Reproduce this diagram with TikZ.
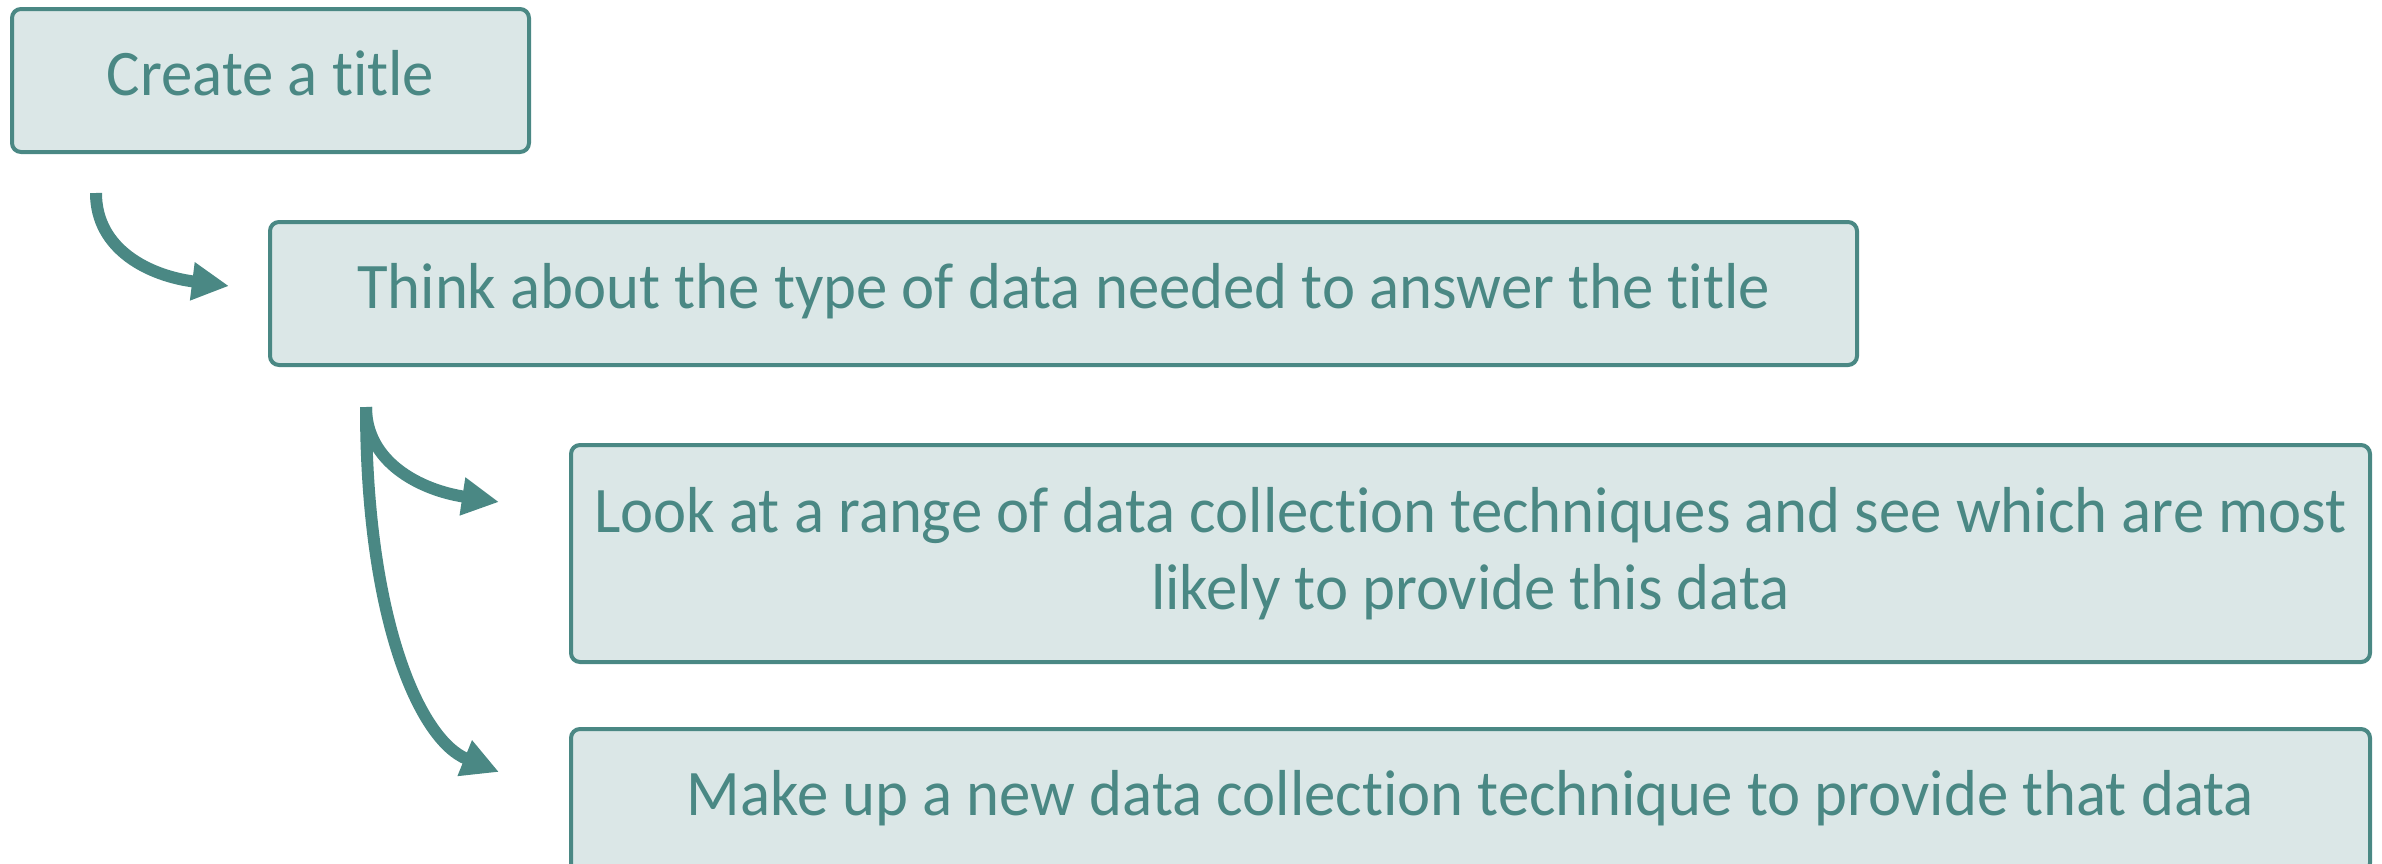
\documentclass[tikz,border=0pt]{standalone}
\usepackage{fontspec}
\setmainfont{Carlito}[FakeStretch=0.965, RawFeature=-liga]
\usetikzlibrary{arrows.meta}
\definecolor{teal}{RGB}{74,136,132}
\definecolor{pale}{RGB}{219,231,231}
\begin{document}
\begin{tikzpicture}[x=1pt,y=-1pt,
  box/.style={draw=teal, fill=pale, line width=4pt, rounded corners=9pt,
    text=teal, align=center, inner sep=0pt,
    text height=48pt, text depth=19pt,
    font=\fontsize{65}{77}\selectfont},
  flow/.style={draw=teal, line width=12pt,
    -{Triangle[length=37pt,width=36pt]}}]
  \useasboundingbox (0,0) rectangle (2382,863);
  \clip (0,0) rectangle (2382,863);

  % step boxes
  \node[box, minimum width=517pt, minimum height=143pt] (title) at (270.5,80.5) {Create a title};
  \node[box, minimum width=1587pt, minimum height=143pt] (think) at (1063.5,293.5)
    {Think about the type of data needed to answer the title};
  \node[box, text height=, text depth=, minimum width=1799pt, minimum height=217pt] (look) at (1470.5,553.5)
    {Look at a range of data collection techniques and see which are most\\likely to provide this data};
  \node[box, minimum width=1799pt, minimum height=143pt] (make) at (1470.5,800.5)
    {Make up a new data collection technique to provide that data};

  % connector ends
  \coordinate (s1) at (96,193);
  \coordinate (e1) at (229,286);
  \coordinate (s2) at (366,407);
  \coordinate (e2) at (499,502);
  \coordinate (e3) at (499,772);

  % curved arrows
  \draw[flow] (s1) .. controls (96,250) and (150,276) .. (e1);
  \draw[flow] (s2) .. controls (366,462) and (420,490) .. (e2);
  \draw[flow] (s2) .. controls (366,620) and (420,740) .. (e3);
\end{tikzpicture}
\end{document}
